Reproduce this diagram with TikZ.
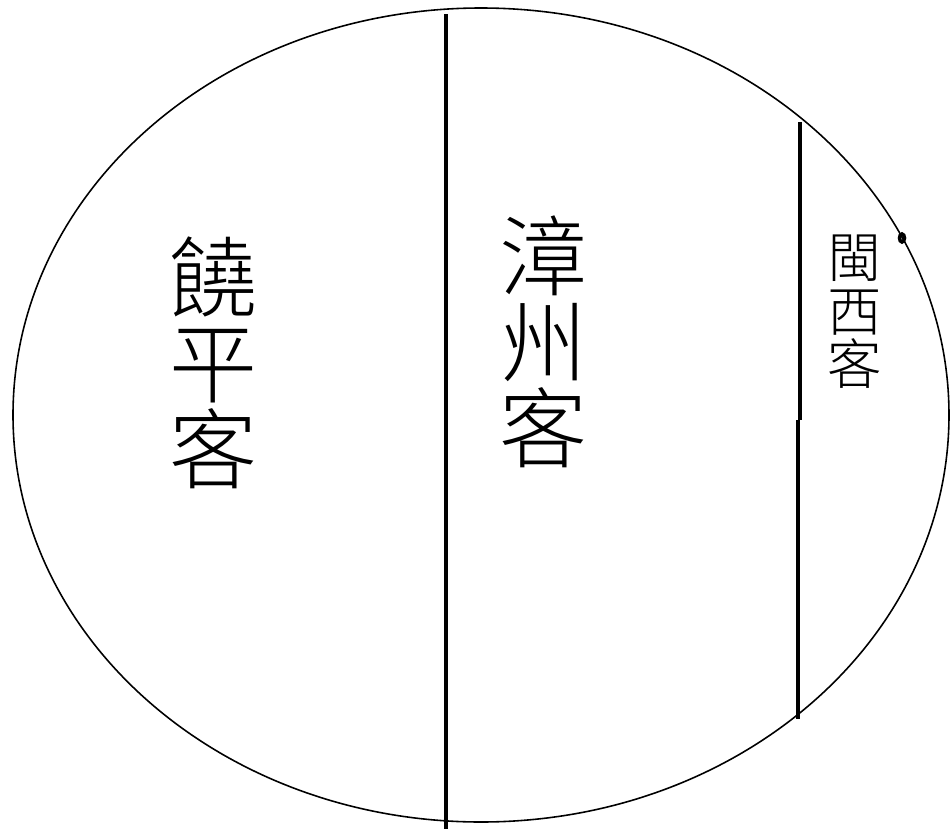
\documentclass[tikz,border=0pt]{standalone}
\usepackage{fontspec}
\newfontfamily\cjk{Noto Sans CJK TC}[UprightFont=* Light]
\begin{document}
\begin{tikzpicture}[x=0.01cm,y=-0.01cm,
	bigname/.style={font=\cjk\fontsize{25}{24.4}\selectfont,align=center,inner sep=0pt},
	smallname/.style={font=\cjk\fontsize{15.5}{15.2}\selectfont,align=center,inner sep=0pt},
	border/.style={line width=1.35pt}]
	\useasboundingbox (0,0) rectangle (951,830);
	\draw[line width=0.45pt] (481,415) ellipse (468 and 407);
	\draw[line width=1pt] (902,238) ellipse (2.5 and 4);
	% borders
	\coordinate (midtop) at (446,14);
	\coordinate (midbot) at (446,829);
	\coordinate (eastop) at (800,122);
	\coordinate (eastmid) at (800,420);
	\coordinate (eastmid2) at (798,420);
	\coordinate (eastbot) at (798,719);
	\draw[border] (midtop)--(midbot);
	\draw[border] (eastop)--(eastmid);
	\draw[border] (eastmid2)--(eastbot);
	% names
	\node[bigname] (raoping) at (213,363) {饒\\平\\客};
	\node[bigname] (zhangzhou) at (543,342) {漳\\州\\客};
	\node[smallname] (minxi) at (855,312) {閩\\西\\客};
\end{tikzpicture}
\end{document}
